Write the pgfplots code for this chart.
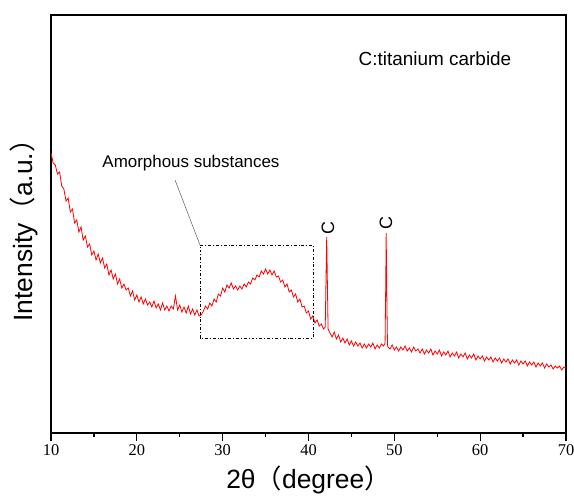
\documentclass[border=0pt]{standalone}
\usepackage{pgfplots}
\pgfplotsset{compat=1.18}
\usepackage{fontspec}
\setmainfont{Liberation Sans}
\newfontfamily\tickfont{Liberation Serif}
\newfontfamily\cjk{Noto Sans CJK SC}
\begin{document}
\begin{tikzpicture}
\begin{axis}[
  scale only axis, width=515bp, height=418bp,
  xmin=10, xmax=70, ymin=0, ymax=418,
  xtick={10,20,30,40,50,60,70},
  minor x tick num=1,
  ytick=\empty,
  xtick pos=bottom,
  tick align=outside,
  major tick length=8bp, minor tick length=4bp,
  axis line style={line width=1.2bp},
  every tick/.style={black, line width=1.2bp},
  /pgf/number format/assume math mode=true,
  tick label style={font=\tickfont\fontsize{16.5}{16.5}\selectfont},
  xlabel={2θ{\cjk （}degree{\cjk ）}},
  ylabel={Intensity{\cjk （}a.u.{\cjk ）}},
  label style={font=\fontsize{26.5}{26.5}\selectfont},
  xlabel style={at={(axis description cs:0.5,-0.1124)}, anchor=center},
  ylabel style={at={(axis description cs:-0.0524,0.5)}, anchor=center},
  clip=false,
]
\addplot[red, line width=0.8bp] coordinates {
(10.00,280) (10.25,270) (10.50,268) (10.75,259) (11.00,261) (11.25,247) (11.50,244) (11.75,232)
(12.00,235) (12.25,221) (12.50,224) (12.75,210) (13.00,213) (13.25,201) (13.50,206) (13.75,193)
(14.00,197) (14.25,186) (14.50,189) (14.75,178) (15.00,182) (15.25,173) (15.50,179) (15.75,170)
(16.00,175) (16.25,165) (16.50,169) (16.75,158) (17.00,163) (17.25,154) (17.50,159) (17.75,149)
(18.00,154) (18.25,145) (18.50,149) (18.75,143) (19.00,145) (19.25,137) (19.50,142) (19.75,133)
(20.00,138) (20.25,131) (20.50,136) (20.75,129) (21.00,134) (21.25,128) (21.50,131) (21.75,126)
(22.00,132) (22.25,125) (22.50,129) (22.75,123) (23.00,130) (23.25,123) (23.50,127) (23.75,122)
(24.00,127) (24.25,124) (24.50,137) (24.75,123) (25.00,128) (25.25,121) (25.50,126) (25.75,120)
(26.00,127) (26.25,119) (26.50,124) (26.75,118) (27.00,123) (27.25,117) (27.50,118) (27.75,122)
(28.00,127) (28.25,124) (28.50,130) (28.75,127) (29.00,134) (29.25,131) (29.50,139) (29.75,137)
(30.00,145) (30.25,141) (30.50,148) (30.75,145) (31.00,150) (31.25,144) (31.50,147) (31.75,143)
(32.00,147) (32.25,144) (32.50,149) (32.75,146) (33.00,151) (33.25,149) (33.50,155) (33.75,153)
(34.00,158) (34.25,156) (34.50,162) (34.75,159) (35.00,164) (35.25,159) (35.50,163) (35.75,158)
(36.00,162) (36.25,156) (36.50,157) (36.75,151) (37.00,153) (37.25,146) (37.50,149) (37.75,141)
(38.00,143) (38.25,136) (38.50,139) (38.75,131) (39.00,134) (39.25,126) (39.50,127) (39.75,120)
(40.00,122) (40.25,114) (40.50,117) (40.75,110) (41.00,113) (41.25,107) (41.50,109) (41.75,104)
(41.95,106) (42.05,160) (42.12,196) (42.20,150) (42.28,104) (42.50,100) (42.75,96) (43.00,101)
(43.25,94) (43.50,98) (43.75,91) (44.00,95) (44.25,90) (44.50,94) (44.75,88) (45.00,92)
(45.25,87) (45.50,91) (45.75,87) (46.00,90) (46.25,85) (46.50,89) (46.75,85) (47.00,89)
(47.25,86) (47.50,90) (47.75,84) (48.00,88) (48.25,85) (48.50,89) (48.75,87) (48.92,90)
(49.00,150) (49.05,200) (49.12,140) (49.20,89) (49.25,86) (49.50,84) (49.75,88) (50.00,83)
(50.25,86) (50.50,82) (50.75,86) (51.00,83) (51.25,87) (51.50,82) (51.75,85) (52.00,81)
(52.25,86) (52.50,82) (52.75,84) (53.00,80) (53.25,84) (53.50,79) (53.75,83) (54.00,80)
(54.25,84) (54.50,78) (54.75,82) (55.00,79) (55.25,83) (55.50,77) (55.75,81) (56.00,78)
(56.25,82) (56.50,76) (56.75,80) (57.00,77) (57.25,81) (57.50,75) (57.75,79) (58.00,76)
(58.25,80) (58.50,74) (58.75,78) (59.00,75) (59.25,79) (59.50,73) (59.75,77) (60.00,74)
(60.25,77) (60.50,72) (60.75,76) (61.00,73) (61.25,76) (61.50,71) (61.75,75) (62.00,72)
(62.25,75) (62.50,70) (62.75,74) (63.00,71) (63.25,74) (63.50,69) (63.75,73) (64.00,70)
(64.25,73) (64.50,68) (64.75,72) (65.00,69) (65.25,72) (65.50,67) (65.75,71) (66.00,68)
(66.25,71) (66.50,66) (66.75,70) (67.00,67) (67.25,70) (67.50,65) (67.75,69) (68.00,66)
(68.25,68) (68.50,64) (68.75,67) (69.00,65) (69.25,67) (69.50,63) (69.75,66) (70.00,65)
};
\draw[black, line width=0.8bp, dash dot] (axis cs:27.36,95) rectangle (axis cs:40.53,188);
\draw[gray!70!black, line width=0.5bp] (axis cs:24.45,253) -- (axis cs:27.36,188);
\node[font=\fontsize{17}{17}\selectfont, anchor=center] at (axis cs:26.31,270) {Amorphous substances};
\node[font=\fontsize{19}{19}\selectfont, anchor=center] at (axis cs:54.74,374) {C:titanium carbide};
\node[font=\fontsize{18}{18}\selectfont, rotate=90, anchor=center] at (axis cs:42.27,205) {C};
\node[font=\fontsize{18}{18}\selectfont, rotate=90, anchor=center] at (axis cs:49.03,210) {C};
\end{axis}
\pgfresetboundingbox
\path ([xshift=-51bp,yshift=-64bp]current axis.south west) rectangle ([xshift=8bp,yshift=15bp]current axis.north east);
\end{tikzpicture}
\end{document}
